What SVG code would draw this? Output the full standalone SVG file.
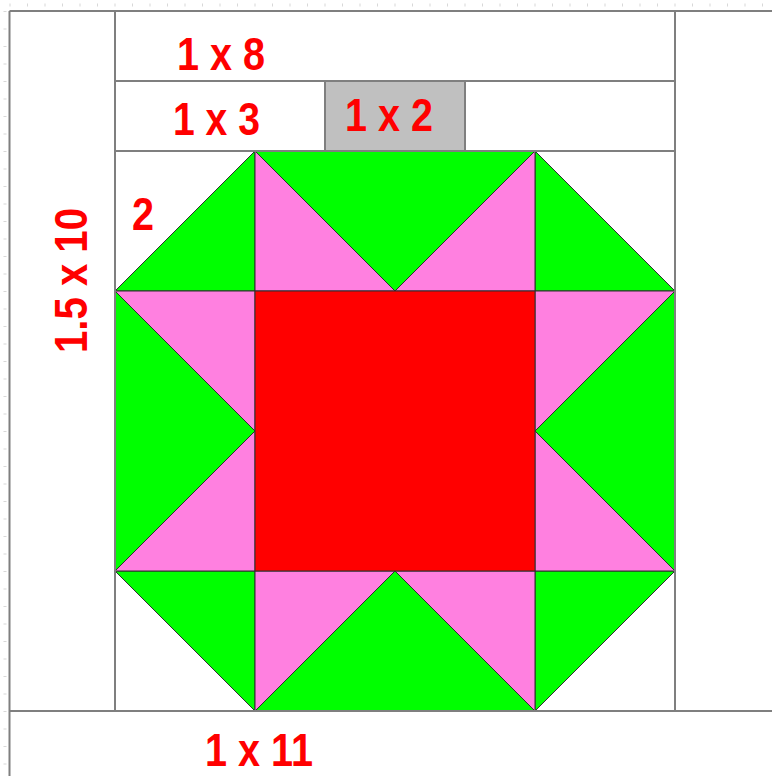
<svg xmlns="http://www.w3.org/2000/svg" width="772" height="776" viewBox="0 0 772 776">
<style>
.grid{stroke:#7f7f7f;stroke-width:2;fill:none}
.tick{stroke:#d8d8d8;stroke-width:3;stroke-dasharray:1 16.5;fill:none}
.g{fill:#00ff00;stroke:#2e2e2e;stroke-width:1}
.p{fill:#ff80e0;stroke:#2e2e2e;stroke-width:1}
.r{fill:#ff0000;stroke:#2e2e2e;stroke-width:1}
.lbl{font-family:"Liberation Sans",Arial,sans-serif;font-weight:bold;font-size:46px;fill:#ff0000}
</style>
<rect width="772" height="776" fill="#ffffff"/>
<g id="ruler">
<line class="tick" x1="9.5" y1="5" x2="772" y2="5"/>
<line class="tick" x1="5" y1="11" x2="5" y2="776"/>
</g>
<g id="strip-1x2">
<rect x="325" y="81" width="140" height="70" fill="#c0c0c0" stroke="#7f7f7f" stroke-width="2"/>
</g>
<g id="corners">
<polygon class="g" points="255,151 255,291 115,291"/>
<polygon class="g" points="535,151 535,291 675,291"/>
<polygon class="g" points="115,571 255,571 255,711"/>
<polygon class="g" points="675,571 535,571 535,711"/>
</g>
<g id="geese-top">
<polygon class="p" points="255,151 255,291 395,291"/>
<polygon class="p" points="535,151 535,291 395,291"/>
<polygon class="g" points="255,151 535,151 395,291"/>
</g>
<g id="geese-bottom">
<polygon class="p" points="255,711 255,571 395,571"/>
<polygon class="p" points="535,711 535,571 395,571"/>
<polygon class="g" points="255,711 535,711 395,571"/>
</g>
<g id="geese-left">
<polygon class="p" points="115,291 255,291 255,431"/>
<polygon class="p" points="115,571 255,571 255,431"/>
<polygon class="g" points="115,291 115,571 255,431"/>
</g>
<g id="geese-right">
<polygon class="p" points="675,291 535,291 535,431"/>
<polygon class="p" points="675,571 535,571 535,431"/>
<polygon class="g" points="675,291 675,571 535,431"/>
</g>
<g id="center">
<rect class="r" x="255" y="291" width="280" height="280"/>
</g>
<g id="connectors">
<line class="grid" x1="9.5" y1="11" x2="772" y2="11"/>
<line class="grid" x1="9.5" y1="11" x2="9.5" y2="776"/>
<line class="grid" x1="115" y1="81" x2="675" y2="81"/>
<line class="grid" x1="115" y1="151" x2="255" y2="151"/>
<line class="grid" x1="535" y1="151" x2="675" y2="151"/>
<line class="grid" x1="255" y1="151" x2="535" y2="151" stroke-width="1"/>
<line class="grid" x1="9.5" y1="711" x2="772" y2="711"/>
<line class="grid" x1="115" y1="11" x2="115" y2="711"/>
<line class="grid" x1="675" y1="11" x2="675" y2="711"/>
</g>
<g id="labels">
<text class="lbl" x="177" y="70" textLength="88" lengthAdjust="spacingAndGlyphs">1 x 8</text>
<text class="lbl" x="173" y="135" textLength="87" lengthAdjust="spacingAndGlyphs">1 x 3</text>
<text class="lbl" x="345" y="131" textLength="88" lengthAdjust="spacingAndGlyphs">1 x 2</text>
<text class="lbl" x="205" y="766" font-size="41" textLength="108" lengthAdjust="spacingAndGlyphs">1 x 11</text>
<text class="lbl" x="132" y="230" textLength="22" lengthAdjust="spacingAndGlyphs">2</text>
<text class="lbl" transform="translate(87,353) rotate(-90)" textLength="145" lengthAdjust="spacingAndGlyphs">1.5 x 10</text>
</g>
</svg>
